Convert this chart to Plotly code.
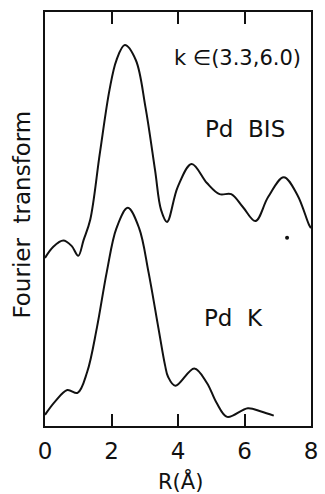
import plotly.graph_objects as go

# Pd BIS curve (upper)
r_bis = [0.0, 0.25, 0.55, 0.80, 1.00, 1.16, 1.36, 1.65, 1.94, 2.15, 2.40, 2.73, 3.02, 3.31, 3.49,
         3.67, 3.99, 4.41, 4.87, 5.25, 5.60, 5.95, 6.33, 6.71, 7.18, 7.59, 7.94, 8.0]
ft_bis = [4.06, 4.33, 4.48, 4.35, 4.11, 4.49, 4.98, 6.59, 8.12, 8.84, 9.20, 8.84, 7.71, 6.18, 5.22,
          4.93, 5.77, 6.33, 5.87, 5.60, 5.60, 5.29, 4.95, 5.53, 6.01, 5.58, 4.86, 4.78]

# Pd K curve (lower)
r_k = [0.0, 0.30, 0.67, 0.98, 1.27, 1.56, 1.86, 2.15, 2.49, 2.83, 3.11, 3.41, 3.61, 3.70,
       3.92, 4.49, 4.87, 5.16, 5.48, 6.10, 6.50, 6.88]
ft_k = [0.27, 0.59, 0.87, 0.80, 1.31, 2.37, 3.73, 4.78, 5.27, 4.78, 3.73, 2.37, 1.47, 1.19,
        0.97, 1.39, 1.04, 0.56, 0.22, 0.43, 0.35, 0.25]

# stray dot in the figure
dot_r = [7.28]
dot_v = [4.55]

x_ticks = [0, 2, 4, 6, 8]

FONT = "DejaVu Sans"
INK = "#111111"

fig = go.Figure()
fig.add_trace(go.Scatter(x=r_bis, y=ft_bis, mode="lines",
                         line=dict(color=INK, width=2, shape="spline", smoothing=1.0),
                         showlegend=False, hoverinfo="skip"))
fig.add_trace(go.Scatter(x=r_k, y=ft_k, mode="lines",
                         line=dict(color=INK, width=2, shape="spline", smoothing=1.0),
                         showlegend=False, hoverinfo="skip"))
fig.add_trace(go.Scatter(x=dot_r, y=dot_v, mode="markers",
                         marker=dict(color=INK, size=4),
                         showlegend=False, hoverinfo="skip"))

fig.update_layout(
    width=325, height=494,
    margin=dict(l=45, r=7, t=12, b=68),
    paper_bgcolor="white", plot_bgcolor="white",
    font=dict(family=FONT, color=INK),
    xaxis=dict(range=[0, 8], tickvals=x_ticks, ticktext=[str(v) for v in x_ticks],
               showgrid=False, zeroline=False, showline=True, linecolor=INK, linewidth=2,
               mirror="ticks", ticks="inside", ticklen=12, tickwidth=2, tickcolor=INK,
               tickfont=dict(size=23, family=FONT, color=INK), ticklabelstandoff=3),
    yaxis=dict(range=[0, 10], showgrid=False, zeroline=False, showline=True, linecolor=INK,
               linewidth=2, mirror=True, ticks="", showticklabels=False),
    annotations=[
        dict(text="k \u2208(3.3,6.0)", xref="paper", yref="paper",
             x=(243 - 45) / 273, y=(426 - 58) / 414, xanchor="center", yanchor="middle",
             showarrow=False, font=dict(size=21, family=FONT, color=INK)),
        dict(text="Pd  BIS", xref="paper", yref="paper",
             x=(250 - 45) / 273, y=(426 - 129) / 414, xanchor="center", yanchor="middle",
             showarrow=False, font=dict(size=23, family=FONT, color=INK)),
        dict(text="Pd  K", xref="paper", yref="paper",
             x=(238 - 45) / 273, y=(426 - 318) / 414, xanchor="center", yanchor="middle",
             showarrow=False, font=dict(size=23, family=FONT, color=INK)),
        dict(text="Fourier  transform", xref="paper", yref="paper",
             x=(21 - 45) / 273, y=(426 - 215) / 414, xanchor="center", yanchor="middle",
             textangle=-90, showarrow=False, font=dict(size=23, family=FONT, color=INK)),
        dict(text="R(\u00c5)", xref="paper", yref="paper",
             x=(184 - 45) / 273, y=(426 - 481) / 414, xanchor="center", yanchor="middle",
             showarrow=False, font=dict(size=21, family=FONT, color=INK)),
    ],
)

fig.write_html("out.html")
